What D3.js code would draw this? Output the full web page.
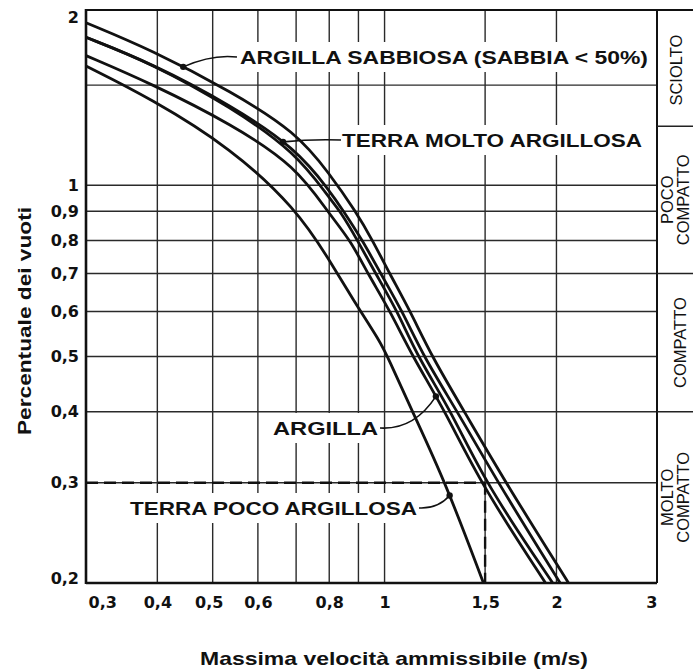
<!DOCTYPE html>
<html>
<head>
<meta charset="utf-8">
<script src="https://cdn.jsdelivr.net/npm/d3@7"></script>
<style>
  body { margin: 0; background: #fff; }
  svg { display: block; }
</style>
</head>
<body>
<svg id="chart" width="693" height="670"></svg>
<script>
// ticks and grid (log-log chart)
var xTicks = [0.3, 0.4, 0.5, 0.6, 0.8, 1, 1.5, 2, 3];
var yTicks = [0.2, 0.3, 0.4, 0.5, 0.6, 0.7, 0.8, 0.9, 1, 2];
var xGrid = [0.4, 0.5, 0.6, 0.7, 0.8, 0.9, 1, 1.5, 2];
var yGrid = [0.3, 0.4, 0.5, 0.6, 0.7, 0.8, 0.9, 1, 1.5];

// curves: [velocità m/s, percentuale dei vuoti]
var argillaSabbiosa = [[0.30, 1.93], [0.39, 1.73], [0.54, 1.46], [0.70, 1.24], [0.80, 1.05], [0.89, 0.9], [0.953, 0.8],
  [1.02, 0.7], [1.11, 0.6], [1.21, 0.5], [1.38, 0.4], [1.63, 0.3], [2.10, 0.2]];
var terraMoltoArgillosa = [[0.30, 1.82], [0.39, 1.64], [0.54, 1.38], [0.70, 1.16], [0.80, 0.98], [0.848, 0.9], [0.915, 0.8],
  [0.984, 0.7], [1.075, 0.6], [1.17, 0.5], [1.342, 0.4], [1.58, 0.3], [2.03, 0.2]];
var terraMedia = [[0.30, 1.82], [0.39, 1.64], [0.54, 1.37], [0.70, 1.14], [0.80, 0.95], [0.837, 0.9], [0.897, 0.8],
  [0.964, 0.7], [1.054, 0.6], [1.142, 0.5], [1.31, 0.4], [1.5, 0.3], [1.97, 0.2]];
var argilla = [[0.30, 1.69], [0.39, 1.51], [0.54, 1.28], [0.70, 1.08], [0.80, 0.89], [0.872, 0.8], [0.934, 0.7],
  [1.024, 0.6], [1.119, 0.5], [1.279, 0.4], [1.47, 0.3], [1.914, 0.2]];
var terraPocoArgillosa = [[0.30, 1.62], [0.39, 1.42], [0.54, 1.16], [0.70, 0.91], [0.80, 0.74], [0.88, 0.63], [0.984, 0.53],
  [1.012, 0.5], [1.119, 0.4], [1.279, 0.3], [1.49, 0.2]];

var curves = [argillaSabbiosa, terraMoltoArgillosa, terraMedia, argilla, terraPocoArgillosa];
var curveNames = ["ARGILLA SABBIOSA (SABBIA < 50%)", "TERRA MOLTO ARGILLOSA", "", "ARGILLA", "TERRA POCO ARGILLOSA"];
var pointerVel = [0.444, 0.664, null, 1.23, 1.30];

// worked example (dashed)
var example = [1.5, 0.3];

// right panel: compaction classes
var zoneLimits = [2, 1.27, 0.7, 0.4, 0.2];
var zoneNames = [["SCIOLTO"], ["POCO", "COMPATTO"], ["COMPATTO"], ["MOLTO", "COMPATTO"]];

var mLeft = 86, mRight = 657, mTop = 10, mBottom = 583;

var x = d3.scaleLog().domain([0.3, 3]).range([mLeft, mRight]);
var y = d3.scaleLog().domain([0.2, 2]).range([mBottom, 14]);
var fmt = function (d) { return String(d).replace(".", ","); };

var svg = d3.select("#chart");
svg.append("rect").attr("width", 693).attr("height", 670).attr("fill", "#fff");

// grid
var grid = svg.append("g").attr("stroke", "#2a2a2a").attr("stroke-width", 1.4);
grid.selectAll(".vg").data(xGrid).enter().append("line")
  .attr("x1", d => x(d)).attr("x2", d => x(d))
  .attr("y1", mTop).attr("y2", mBottom);
grid.selectAll(".hg").data(yGrid).enter().append("line")
  .attr("x1", mLeft).attr("x2", mRight)
  .attr("y1", d => y(d)).attr("y2", d => y(d));

// label layout (pixels)
var labelPos = [
  { x: 240, y: 64, len: 408, from: [237, 57], ctrl: [212, 54] },
  { x: 342, y: 147, len: 300, from: [341, 140], ctrl: [312, 139] },
  null,
  { x: 273, y: 435, len: 105, from: [380, 428], ctrl: [414, 430] },
  { x: 130, y: 515, len: 287, from: [419, 508], ctrl: [438, 509] }
];

// white boxes under labels (break the grid)
labelPos.forEach(function (p) {
  if (!p) return;
  svg.append("rect").attr("x", p.x - 5).attr("y", p.y - 22)
    .attr("width", p.len + 10).attr("height", 30).attr("fill", "#fff");
});

// dashed example
var dash = svg.append("g").attr("stroke", "#111").attr("stroke-width", 2.4)
  .attr("stroke-dasharray", "12,6").attr("fill", "none");
dash.append("line").attr("x1", mLeft).attr("x2", x(example[0]))
  .attr("y1", y(example[1])).attr("y2", y(example[1]));
dash.append("line").attr("x1", x(example[0])).attr("x2", x(example[0]))
  .attr("y1", y(example[1])).attr("y2", mBottom);

// curves
var line = d3.line().x(d => x(d[0])).y(d => y(d[1])).curve(d3.curveBasis);
var paths = svg.append("g").selectAll("path").data(curves).enter().append("path")
  .attr("d", line).attr("fill", "none").attr("stroke", "#111").attr("stroke-width", 2.8);

// frame
var frame = svg.append("g").attr("stroke", "#111");
frame.append("line").attr("x1", mLeft).attr("x2", mLeft).attr("y1", mTop - 1).attr("y2", mBottom + 1).attr("stroke-width", 2.6);
frame.append("line").attr("x1", mLeft).attr("x2", mRight).attr("y1", mBottom).attr("y2", mBottom).attr("stroke-width", 2.6);
frame.append("line").attr("x1", mLeft).attr("x2", 693).attr("y1", mTop).attr("y2", mTop).attr("stroke-width", 2);
frame.append("line").attr("x1", mRight).attr("x2", mRight).attr("y1", mTop).attr("y2", mBottom).attr("stroke-width", 2);

// right panel
var zones = svg.append("g");
zones.selectAll("line").data(zoneLimits.slice(1, -1)).enter().append("line")
  .attr("x1", mRight).attr("x2", 693).attr("y1", d => y(d)).attr("y2", d => y(d))
  .attr("stroke", "#222").attr("stroke-width", 1.5);
zoneNames.forEach(function (names, i) {
  var cy = (Math.max(mTop, y(zoneLimits[i])) + y(zoneLimits[i + 1])) / 2;
  var xs = names.length === 1 ? (i === 0 ? [676] : [680]) : [667, 683];
  names.forEach(function (n, j) {
    zones.append("text")
      .attr("transform", "translate(" + xs[j] + "," + cy + ") rotate(-90)")
      .attr("dy", "0.36em")
      .attr("text-anchor", "middle")
      .style("font-family", "'Liberation Sans', Arial, sans-serif")
      .style("font-size", "16.5px")
      .attr("fill", "#111")
      .text(n);
  });
});

// curve labels + pointers
labelPos.forEach(function (p, i) {
  if (!p) return;
  var node = paths.nodes()[i];
  var px = x(pointerVel[i]);
  var lo = 0, hi = node.getTotalLength(), pt;
  for (var k = 0; k < 30; k++) {
    var mid = (lo + hi) / 2;
    pt = node.getPointAtLength(mid);
    if (pt.x < px) lo = mid; else hi = mid;
  }
  svg.append("path")
    .attr("d", "M" + p.from[0] + "," + p.from[1] + "Q" + p.ctrl[0] + "," + p.ctrl[1] + " " + pt.x + "," + pt.y)
    .attr("fill", "none").attr("stroke", "#111").attr("stroke-width", 1.6);
  svg.append("circle").attr("cx", pt.x).attr("cy", pt.y).attr("r", 3.2).attr("fill", "#111");
  svg.append("text").attr("x", p.x).attr("y", p.y)
    .attr("textLength", p.len).attr("lengthAdjust", "spacingAndGlyphs")
    .style("font-family", "'Liberation Sans', Arial, sans-serif")
    .style("font-weight", "bold").style("font-size", "19px").attr("fill", "#111")
    .text(curveNames[i]);
});

// axes (labels only)
var tickFont = function (g) {
  g.select(".domain").remove();
  g.selectAll("text").style("font-family", "'DejaVu Sans', sans-serif")
    .style("font-weight", "bold").style("font-size", "16px").attr("fill", "#111");
};
svg.append("g").attr("transform", "translate(" + mLeft + ",0)")
  .call(d3.axisLeft(y).tickValues(yTicks).tickSize(0).tickPadding(7).tickFormat(fmt))
  .call(tickFont)
  .call(g => {
    g.selectAll(".tick").filter(d => d === 0.2).select("text").attr("y", -5);
    g.selectAll(".tick").filter(d => d === 2).select("text").attr("y", 3);
  });
svg.append("g").attr("transform", "translate(0," + mBottom + ")")
  .call(d3.axisBottom(x).tickValues(xTicks).tickSize(0).tickPadding(14).tickFormat(fmt))
  .call(tickFont)
  .call(g => {
    g.selectAll(".tick").filter(d => d === 0.3).select("text").attr("text-anchor", "start").attr("x", 2);
    g.selectAll(".tick").filter(d => d === 0.5).select("text").attr("x", -4);
    g.selectAll(".tick").filter(d => d === 3).select("text").attr("text-anchor", "end").attr("x", 0);
  });

// axis titles
svg.append("text").attr("x", 200).attr("y", 665)
  .attr("textLength", 388).attr("lengthAdjust", "spacingAndGlyphs")
  .style("font-family", "'Liberation Sans', Arial, sans-serif")
  .style("font-weight", "bold").style("font-size", "19px").attr("fill", "#111")
  .text("Massima velocità ammissibile (m/s)");
svg.append("text").attr("transform", "translate(24,321) rotate(-90)")
  .attr("dy", "0.36em").attr("text-anchor", "middle")
  .attr("textLength", 228).attr("lengthAdjust", "spacingAndGlyphs")
  .style("font-family", "'Liberation Sans', Arial, sans-serif")
  .style("font-weight", "bold").style("font-size", "19px").attr("fill", "#111")
  .text("Percentuale dei vuoti");
</script>
</body>
</html>
